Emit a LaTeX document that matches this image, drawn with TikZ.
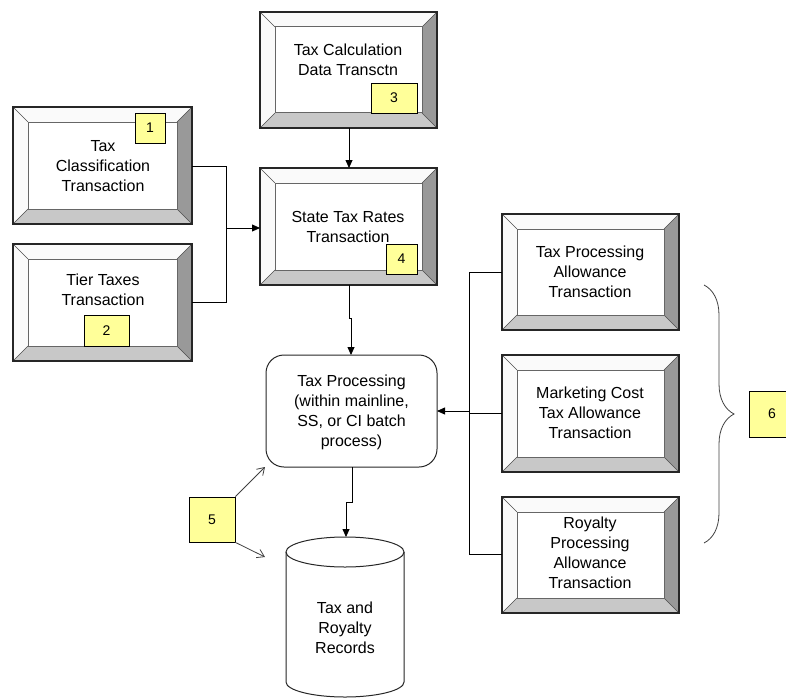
\documentclass[tikz,border=0pt]{standalone}
\usepackage{fontspec}
\setmainfont{Liberation Sans}
\usetikzlibrary{arrows.meta,decorations.pathreplacing}
\definecolor{rgt}{HTML}{999999}
\definecolor{bot}{HTML}{C8C8C8}
\definecolor{topc}{HTML}{FAFAFA}
\definecolor{lbl}{HTML}{FFFF99}
\tikzset{
  txt/.style={align=center,font=\fontsize{16}{20}\selectfont,inner sep=0pt},
  lab/.style={draw=black,fill=lbl,line width=0.8pt,font=\fontsize{14}{16}\selectfont,inner sep=0pt},
  conn/.style={line width=0.8pt},
  arr/.style={line width=0.8pt,-{Triangle[length=8pt,width=7pt]}},
  oarr/.style={line width=0.8pt,-{Straight Barb[length=7pt,width=9pt]},draw=black!75}
}
% bevel box: #1 name, #2 x1, #3 y1 (top), #4 x2, #5 y2 (bottom)
\newcommand{\bevbox}[5]{%
  \fill[topc] (#2,#3) rectangle (#4,#5);
  \fill[bot] (#2,#5) -- (#2+15,#5-15) -- (#4-15,#5-15) -- (#4,#5) -- cycle;
  \fill[rgt] (#4,#3) -- (#4-15,#3+15) -- (#4-15,#5-15) -- (#4,#5) -- cycle;
  \draw[black!70,line width=0.6pt] (#2,#3) -- (#2+15,#3+15) (#4,#3) -- (#4-15,#3+15)
     (#2,#5) -- (#2+15,#5-15) (#4,#5) -- (#4-15,#5-15);
  \draw[black!60,line width=1pt,fill=white] (#2+15,#3+15) rectangle (#4-15,#5-15);
  \draw[black!85,line width=1.2pt] (#2,#3) rectangle (#4,#5);
  \coordinate (#1-w) at (#2,{(#3+#5)/2});
  \coordinate (#1-e) at (#4,{(#3+#5)/2});
  \coordinate (#1-n) at ({(#2+#4)/2},#3);
  \coordinate (#1-s) at ({(#2+#4)/2},#5);
}
\begin{document}
\begin{tikzpicture}[x=1pt,y=-1pt]
\useasboundingbox (0,0) rectangle (786,698);
% boxes
\bevbox{b1}{13}{107}{192}{224}
\bevbox{b2}{13}{244}{192}{361}
\bevbox{b3}{260}{12}{437}{128}
\bevbox{b4}{260}{168}{437}{285}
\bevbox{r1}{502}{214}{679}{330}
\bevbox{r2}{502}{355}{679}{472}
\bevbox{r3}{502}{497}{679}{613}
% texts
\node[txt] (t1) at (103,166) {Tax\\Classification\\Transaction};
\node[txt] (t2) at (103,290) {Tier Taxes\\Transaction};
\node[txt] (t3) at (348,60) {Tax Calculation\\Data Transctn};
\node[txt] (t4) at (348,227) {State Tax Rates\\Transaction};
\node[txt] (tr1) at (590,272) {Tax Processing\\Allowance\\Transaction};
\node[txt] (tr2) at (590,413) {Marketing Cost\\Tax Allowance\\Transaction};
\node[txt] (tr3) at (590,553) {Royalty\\Processing\\Allowance\\Transaction};
% labels
\node[lab,minimum width=30pt,minimum height=30pt,font=\fontsize{14}{16}\selectfont\rmfamily] (l1) at (150,128) {1};
\node[lab,minimum width=45pt,minimum height=31pt] (l2) at (106.5,330.5) {2};
\node[lab,minimum width=46pt,minimum height=30pt] (l3) at (394,98) {3};
\node[lab,minimum width=31pt,minimum height=30pt] (l4) at (401.5,259) {4};
\node[lab,minimum width=46pt,minimum height=45pt] (l5) at (212,519.5) {5};
\node[lab,minimum width=46pt,minimum height=46pt] (l6) at (772,414) {6};
% tax processing
\node[draw=black!85,line width=1pt,rounded corners=18pt,minimum width=171pt,minimum height=112pt] (tp) at (351.5,411) {};
\node[txt] (tpt) at (351.5,412) {Tax Processing\\(within mainline,\\SS, or CI batch\\process)};
% cylinder
\coordinate (cyl) at (345,552);
\draw[black!85,line width=1pt,fill=white] (286,552) -- (286,682) arc[start angle=180,end angle=0,x radius=59,y radius=15] -- (404,552);
\draw[black!85,line width=1pt] (345,552) ellipse[x radius=59,y radius=15];
\node[txt] (cylt) at (345,628) {Tax and\\Royalty\\Records};
% connectors
\coordinate (j1) at (226,228);
\draw[conn] (b1-e |- 0,166) -| (j1);
\draw[conn] (b2-e |- 0,302) -| (j1);
\draw[arr] (j1) -- (b4-w |- j1);
\draw[arr] (349,128) -- (349,168);
\draw[arr] (349,285) -- (349,318) -- (351,318) -- (351,355);
\draw[arr] (352,467) -- (352,502) -- (346,502) -- (346,537);
\coordinate (j2) at (469,411);
\draw[conn] (r1-w |- 0,272) -| (469,554) -- (r3-w |- 0,554);
\draw[conn] (r2-w |- 0,413) -- (469,413);
\draw[arr] (j2) -- (437,411);
\draw[oarr] (l5.north east) -- (265,467);
\draw[oarr] (l5.south east) -- (265,557);
% brace
\draw[black!75,line width=0.8pt,decorate,decoration={brace,amplitude=30pt,aspect=0.5}] (704,285) -- (704,543);
\end{tikzpicture}
\end{document}
